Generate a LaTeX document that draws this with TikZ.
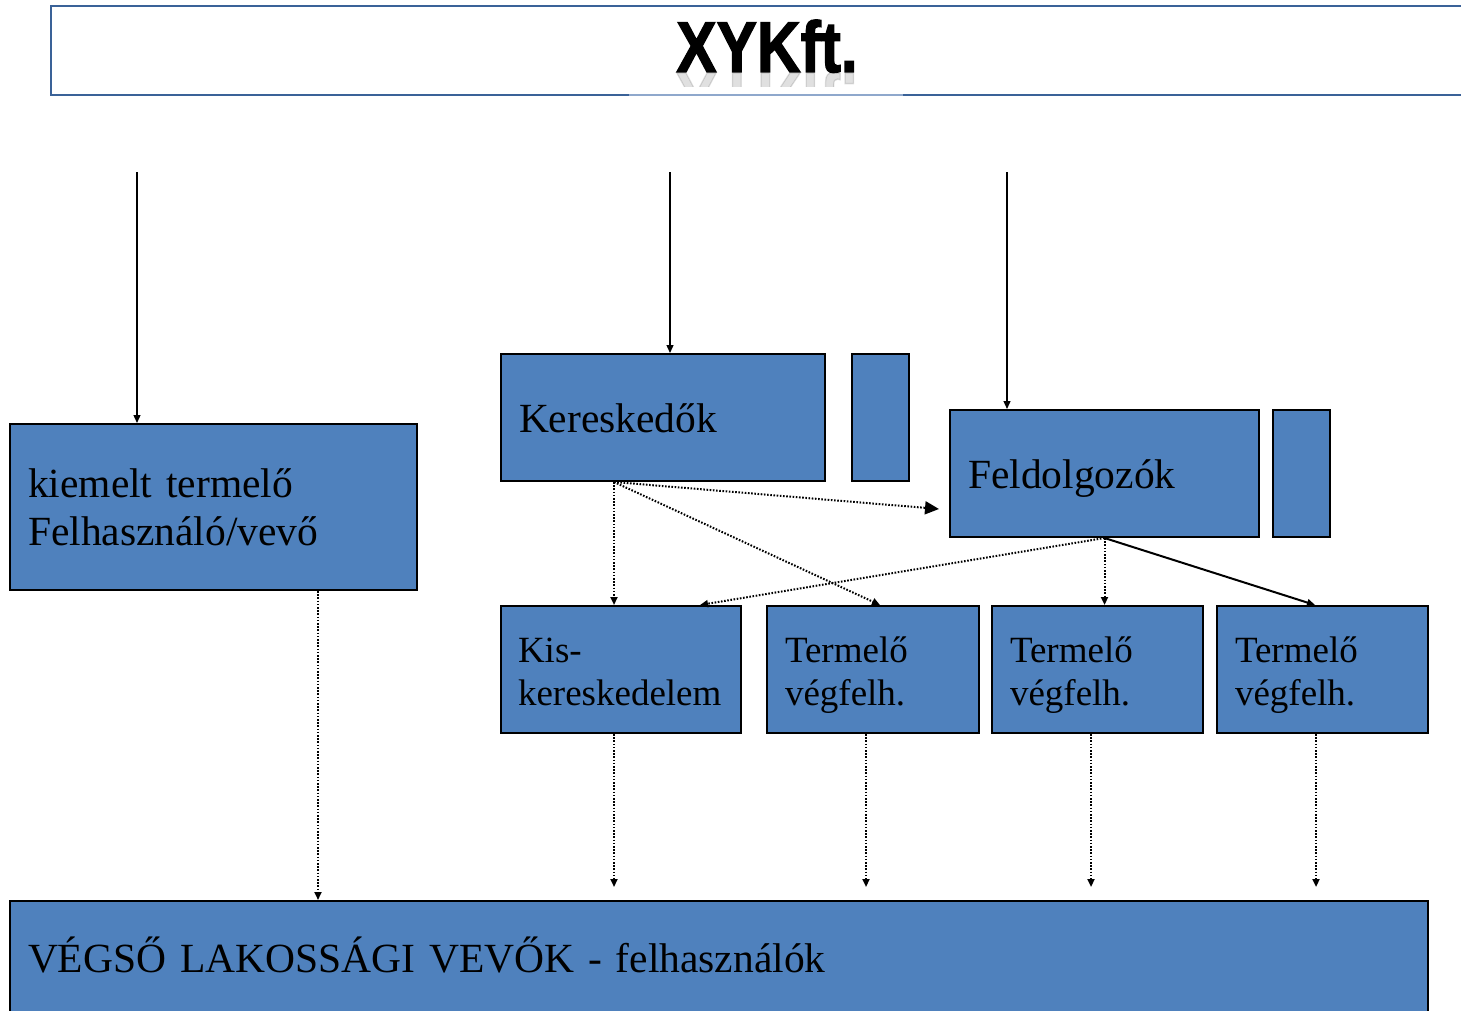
\documentclass[tikz,border=0pt]{standalone}
\usepackage{fontspec}
\setmainfont{Liberation Serif}
\newfontfamily\titlefont[BoldFeatures={FakeBold=2}]{Liberation Sans}
\usetikzlibrary{arrows.meta,calc}
\definecolor{boxblue}{HTML}{4F81BD}
\definecolor{framebl}{HTML}{3A6298}
\definecolor{framelt}{HTML}{8FA8CC}
\newcommand\hst[1]{\rule{0pt}{#1}}
\newcommand\dst[1]{\rule[-#1]{0pt}{#1}}
\tikzset{
  bluebox/.style={draw=black, line width=2pt, fill=boxblue, rectangle, inner xsep=18pt, inner ysep=0pt, align=left, font=\fontsize{37}{43}\selectfont},
  bigtext/.style={font=\fontsize{41.5}{48}\selectfont},
  solidarr/.style={line width=1.3pt, -{Triangle[length=8pt,width=7pt]}},
  dotarr/.style={line width=2pt, dash pattern=on 1.6pt off 1.6pt, -{Triangle[length=8pt,width=7pt]}},
  dotbig/.style={line width=2pt, dash pattern=on 1.6pt off 1.6pt, -{Triangle[length=14pt,width=13pt]}},
}
\begin{document}
\begin{tikzpicture}[x=1pt,y=-1pt]
\useasboundingbox (0,0) rectangle (1461,1010);
\clip (0,0) rectangle (1461,1010);
% title frame
\node[draw=framebl, line width=2pt, minimum width=1432pt, minimum height=89pt, inner sep=0pt] (title) at (767,50.5) {};
\draw[framelt, line width=1.5pt] ([xshift=-138pt,yshift=1pt]title.south) -- ([xshift=136pt,yshift=1pt]title.south);
\begin{scope}
\clip (600,73) rectangle (900,86);
\node[anchor=base, yscale=-1, xscale=0.84, opacity=0.12, inner sep=0pt, font=\titlefont\bfseries\fontsize{72}{72}\selectfont] (titlerefl) at (767,73) {XYKft.};
\end{scope}
\node[anchor=base, xscale=0.84, inner sep=0pt, font=\titlefont\bfseries\fontsize{72}{72}\selectfont] (titletext) at (767,72) {XYKft.};

% boxes
\node[bluebox, bigtext, minimum width=407pt, minimum height=166pt, text width=371pt] (kiemelt) at (213.5,507) {\hst{38pt}kiemelt termelő\\Felhasználó/vevő\dst{10pt}};
\node[bluebox, bigtext, minimum width=324pt, minimum height=127pt, text width=288pt] (keresk) at (663,417.5) {\hst{40pt}Kereskedők\dst{11pt}};
\node[bluebox, minimum width=57pt, minimum height=127pt] (kereskS) at (880.5,417.5) {};
\node[bluebox, bigtext, minimum width=309pt, minimum height=127pt, text width=273pt] (feld) at (1104.5,473.5) {\hst{40pt}Feldolgozók\dst{11pt}};
\node[bluebox, minimum width=57pt, minimum height=127pt] (feldS) at (1301.5,473.5) {};
\node[bluebox, minimum width=240pt, minimum height=127pt, text width=206pt, inner xsep=17pt] (kis) at (621,669.5) {\hst{37pt}Kis-\\kereskedelem\dst{9pt}};
\node[bluebox, minimum width=212pt, minimum height=127pt, text width=176pt] (t1) at (873,669.5) {\hst{37pt}Termelő\\végfelh.\dst{9pt}};
\node[bluebox, minimum width=211pt, minimum height=127pt, text width=175pt] (t2) at (1097.5,669.5) {\hst{37pt}Termelő\\végfelh.\dst{9pt}};
\node[bluebox, minimum width=211pt, minimum height=127pt, text width=175pt] (t3) at (1322.5,669.5) {\hst{37pt}Termelő\\végfelh.\dst{9pt}};
\node[bluebox, bigtext, minimum width=1418pt, minimum height=111pt, text width=1382pt] (vegso) at (719,956.5) {\hst{40pt}VÉGSŐ LAKOSSÁGI VEVŐK - felhasználók\dst{9pt}};

% top free ends
\coordinate (s1) at (137,172);
\coordinate (s2) at (670,172);
\coordinate (s3) at (1007,172);
\draw[solidarr] (s1) -- (s1 |- kiemelt.north);
\draw[solidarr] (s2) -- (s2 |- keresk.north);
\draw[solidarr] (s3) -- (s3 |- feld.north);

% from Kereskedok
\coordinate (kb) at ([xshift=-49pt]keresk.south);
\coordinate (fe) at ([xshift=-10pt,yshift=-35.5pt]feld.west);
\draw[dotarr] (kb) -- ([xshift=-7pt]kis.north);
\draw[dotarr] (kb) -- ([xshift=7pt]t1.north);
\draw[dotbig] (kb) -- (fe);

% from Feldolgozok
\draw[dotarr] (feld.south) -- ([xshift=79pt]kis.north);
\draw[dotarr] (feld.south) -- (feld.south |- t2.north);
\draw[solidarr, line width=2pt] (feld.south) -- ([xshift=-7.5pt]t3.north);

% to bottom
\coordinate (kmb) at ([xshift=104.5pt]kiemelt.south);
\draw[dotarr] (kmb) -- (kmb |- vegso.north);
\coordinate (e1) at ([xshift=-7pt,yshift=-153pt]kis.south);
\coordinate (e2) at ([xshift=-7pt,yshift=-153pt]t1.south);
\coordinate (e3) at ([xshift=-6.5pt,yshift=-153pt]t2.south);
\coordinate (e4) at ([xshift=-6.5pt,yshift=-153pt]t3.south);
\draw[dotarr] ([xshift=-7pt]kis.south) -- (e1);
\draw[dotarr] ([xshift=-7pt]t1.south) -- (e2);
\draw[dotarr] ([xshift=-6.5pt]t2.south) -- (e3);
\draw[dotarr] ([xshift=-6.5pt]t3.south) -- (e4);
\end{tikzpicture}
\end{document}
